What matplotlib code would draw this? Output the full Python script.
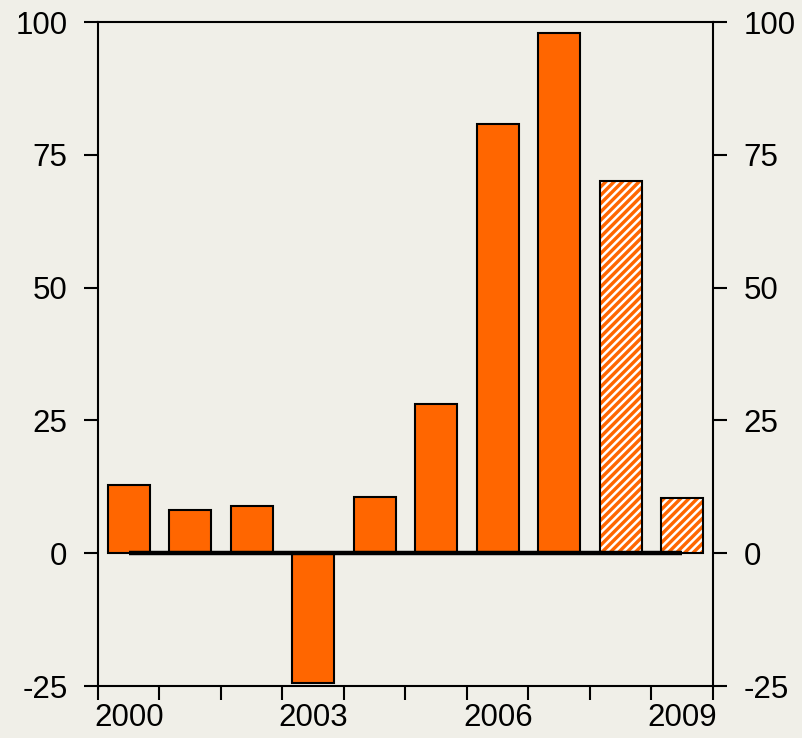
import numpy as np
import matplotlib.pyplot as plt

plt.rcParams['font.family'] = ['Liberation Sans', 'DejaVu Sans']
plt.rcParams['hatch.linewidth'] = 1.8

years = [2000, 2001, 2002, 2003, 2004, 2005, 2006, 2007, 2008, 2009]
values = [12.8, 8.2, 8.8, -24.4, 10.6, 28.0, 80.8, 97.9, 70.0, 10.3]
forecast = [False] * 8 + [True] * 2
label_years = [2000, 2003, 2006, 2009]
yticks = [-25, 0, 25, 50, 75, 100]

bg = '#F0EFE8'
orange = '#FF6600'

fig = plt.figure(figsize=(8.03, 7.38), dpi=100, facecolor=bg)
ax = fig.add_axes([98 / 803, 52 / 738, 615 / 803, 664 / 738])
ax.set_facecolor(bg)

x = np.arange(len(years))
w = 0.68
for xi, v, f in zip(x, values, forecast):
    if f:
        # forecast bars: white diagonal stripes over orange
        ax.bar(xi, v, width=w, color=orange, edgecolor='white', hatch='////',
               linewidth=0, zorder=2)
        ax.bar(xi, v, width=w, facecolor='none', edgecolor='black',
               linewidth=1.5, zorder=3)
    else:
        ax.bar(xi, v, width=w, color=orange, edgecolor='black',
               linewidth=1.5, zorder=2)

# zero line between first and last bar centres
ax.hlines(0, x[0], x[-1], color='black', linewidth=3.2, zorder=4)

ax.set_xlim(-0.5, len(years) - 0.5)
ax.set_ylim(-25, 100)
ax.set_yticks(yticks)
ax.set_yticklabels([str(t) for t in yticks])

ax.set_xticks([years.index(y) for y in label_years])
ax.set_xticklabels([str(y) for y in label_years])
ax.set_xticks(np.arange(-0.5, len(years)), minor=True)
ax.tick_params(axis='x', which='major', length=0, pad=12, labelsize=22.5)
ax.tick_params(axis='x', which='minor', length=10, width=1.5, direction='out')
ax.tick_params(axis='y', which='major', length=10, width=1.5, direction='out',
               left=True, right=True, labelleft=True, labelright=True,
               pad=12, labelsize=22.5)

for s in ax.spines.values():
    s.set_linewidth(1.5)

plt.savefig('out.png', dpi=100, facecolor=bg)
